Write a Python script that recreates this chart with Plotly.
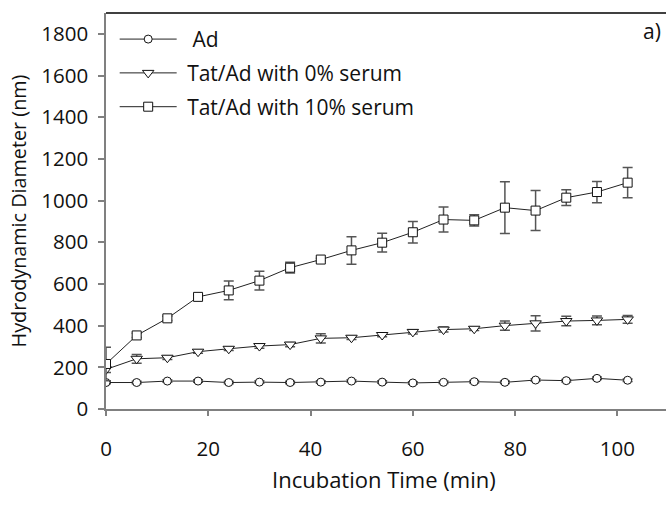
import plotly.graph_objects as go

time_min = [0, 6, 12, 18, 24, 30, 36, 42, 48, 54, 60, 66, 72, 78, 84, 90, 96, 102]

ad = [127, 127, 134, 134, 127, 129, 127, 129, 134, 129, 125, 128, 131, 128, 139, 136, 147, 138]
ad_err = [6, 6, 6, 6, 6, 6, 6, 6, 6, 6, 6, 6, 6, 6, 6, 6, 6, 6]

tat0 = [190, 241, 246, 275, 289, 302, 309, 339, 342, 355, 370, 381, 385, 400, 411, 422, 425, 430]
tat0_err = [15, 21, 8, 8, 8, 10, 10, 22, 8, 8, 10, 12, 8, 22, 37, 23, 21, 19]

tat10 = [216, 353, 435, 538, 569, 616, 678, 717, 761, 798, 848, 909, 905, 966, 952, 1014, 1041, 1086]
tat10_err = [80, 10, 10, 10, 45, 45, 26, 6, 66, 45, 52, 60, 27, 124, 96, 38, 51, 73]

names = ["Ad", "Tat/Ad with 0% serum", "Tat/Ad with 10% serum"]
x_ticks = [0, 20, 40, 60, 80, 100]
y_ticks = [0, 200, 400, 600, 800, 1000, 1200, 1400, 1600, 1800]
x_title = "Incubation Time (min)"
y_title = "Hydrodynamic Diameter (nm)"

FONT = "Open Sans"
NB = "\u00a0"
fig = go.Figure()

series = [
    (NB + NB + names[0], ad, ad_err, "circle", 8),
    (NB + names[1], tat0, tat0_err, "triangle-down", 10),
    (NB + names[2], tat10, tat10_err, "square", 9),
]
for i, (nm, ys, es, sym, sz) in enumerate(series):
    fig.add_trace(go.Scatter(
        x=time_min, y=ys, name=nm,
        mode="lines+markers",
        line=dict(color="#222222", width=1),
        marker=dict(symbol=sym, size=sz, color="white",
                    line=dict(color="#111111", width=1)),
        error_y=dict(type="data", array=es, visible=True,
                     color="#555555", thickness=1.5, width=5),
        legendgroup=f"g{i}",
    ))

fig.update_layout(
    width=666, height=505,
    margin=dict(l=106, r=0, t=13, b=96),
    paper_bgcolor="white", plot_bgcolor="white",
    font=dict(family=FONT, size=20.5, color="#111111"),
    showlegend=True,
    legend=dict(x=0.0155, y=0.985, xanchor="left", yanchor="top",
                bgcolor="rgba(0,0,0,0)", font=dict(size=21),
                tracegroupgap=3.5, itemwidth=57),
    xaxis=dict(range=[0, 109.5], tickvals=x_ticks, ticks="outside", ticklen=5,
               tickcolor="#808080", tickwidth=1.5,
               showline=True, linecolor="#808080", linewidth=1.5,
               showgrid=False, zeroline=False, ticklabelstandoff=16),
    yaxis=dict(range=[0, 1900], tickvals=y_ticks, ticks="outside", ticklen=6,
               tickcolor="#808080", tickwidth=1.5,
               showline=True, linecolor="#808080", linewidth=1.5,
               showgrid=False, zeroline=False, ticklabelstandoff=6,
               title=dict(text=y_title, standoff=9, font=dict(size=19.8))),
    shapes=[dict(type="line", xref="paper", yref="paper", x0=0, x1=1, y0=1, y1=1,
                 line=dict(color="black", width=1.3))],
    annotations=[
        dict(text="a)", xref="paper", yref="paper", x=0.975, y=0.955,
             xanchor="center", yanchor="middle", showarrow=False,
             font=dict(size=21)),
        dict(text=x_title, xref="paper", yref="paper", x=0.497, y=-0.177,
             xanchor="center", yanchor="middle", showarrow=False,
             font=dict(size=22)),
    ],
)

fig.write_html("out.html")
